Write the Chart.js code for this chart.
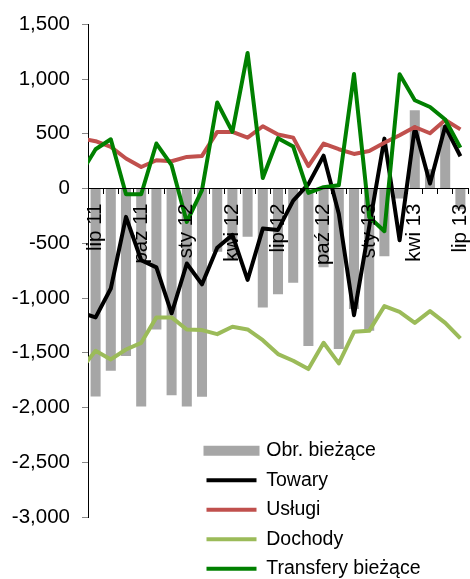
<!DOCTYPE html>
<html>
<head>
<meta charset="utf-8">
<script src="https://cdn.jsdelivr.net/npm/chart.js@4"></script>
<style>
html,body{margin:0;padding:0;background:#fff;}
#wrap{width:470px;height:579px;}
</style>
</head>
<body>
<div id="wrap"><canvas id="c" width="470" height="579"></canvas></div>
<script>
// Months (first one, cze 11, lies just left of the visible range; only its line segments show up to the axis)
const categories = ['cze 11','lip 11','sie 11','wrz 11','paź 11','lis 11','gru 11','sty 12','lut 12','mar 12','kwi 12','maj 12','cze 12','lip 12','sie 12','wrz 12','paź 12','lis 12','gru 12','sty 13','lut 13','mar 13','kwi 13','maj 13','cze 13','lip 13'];
const shownLabels = ['lip 11','paź 11','sty 12','kwi 12','lip 12','paź 12','sty 13','kwi 13','lip 13'];
const yTickValues = [-3000,-2500,-2000,-1500,-1000,-500,0,500,1000,1500];

const obrBiezace = [null,-1900,-1665,-1530,-1990,-1287,-1887,-1990,-1902,-578,-650,-441,-1086,-965,-861,-1439,-718,-1465,-1100,-1300,-618,-91,714,176,580,-190];
const towary     = [-1130,-1177,-913,-259,-655,-720,-1141,-685,-875,-540,-423,-835,-366,-378,-110,40,300,-230,-1157,-350,456,-472,557,46,569,295];
const uslugi     = [460,432,380,274,197,258,249,289,298,517,517,465,569,493,465,205,411,359,316,343,418,486,562,505,626,540];
const dochody    = [-1655,-1482,-1561,-1470,-1409,-1177,-1177,-1287,-1293,-1330,-1263,-1287,-1385,-1512,-1573,-1649,-1409,-1597,-1309,-1300,-1074,-1126,-1227,-1120,-1227,-1369];
const transfery  = [130,359,450,-52,-52,411,213,-305,-15,786,518,1238,97,460,383,-40,12,30,1046,-260,-390,1043,806,745,630,374];

const FONT = "'Liberation Sans', Arial, sans-serif";
Chart.defaults.font.family = FONT;
Chart.defaults.color = '#000';

function lineDs(label, data, color, order) {
  return {type:'line', label, data, borderColor:color, backgroundColor:color,
    borderWidth:4, pointRadius:0, pointHoverRadius:0, fill:false, tension:0,
    borderJoinStyle:'round', borderCapStyle:'butt', order, clip:0};
}

const legendPlace = {
  id:'legendPlace',
  afterUpdate(chart){
    const L = chart.legend; if(!L) return;
    L.left = 196.5; L.top = 431; L.right = 470; L.bottom = 660;
    L.width = L.right - L.left; L.height = L.bottom - L.top;
  }
};

new Chart(document.getElementById('c'), {
  type:'bar',
  data:{
    labels: categories,
    datasets:[
      {type:'bar', label:'Obr. bieżące', data:obrBiezace, backgroundColor:'#A6A6A6', borderWidth:0,
       barPercentage:0.66, categoryPercentage:1, order:5, clip:0},
      lineDs('Towary', towary, '#000000', 4),
      lineDs('Usługi', uslugi, '#C0504D', 3),
      lineDs('Dochody', dochody, '#9BBB59', 2),
      lineDs('Transfery bieżące', transfery, '#008000', 1)
    ]
  },
  options:{
    responsive:false, animation:false, devicePixelRatio:1, locale:'en-US',
    layout:{padding:{left:0, top:24, right:2, bottom:62}},
    scales:{
      x:{
        type:'category', min: categories[1], position:{y:0}, offset:true,
        grid:{display:true, drawOnChartArea:false, drawTicks:true, tickLength:5, tickColor:'#000', offset:true},
        border:{display:true, color:'#000', width:1, z:1},
        ticks:{autoSkip:false, minRotation:90, maxRotation:90, padding:10, color:'#000', z:1,
          font:{family:FONT, size:20.5},
          callback(value){ const l = categories[value]; return shownLabels.includes(l) ? l : ''; }},
        afterFit(s){ s.paddingLeft = 0; s.paddingRight = 0; }
      },
      y:{
        min: yTickValues[0], max: yTickValues[yTickValues.length-1],
        ticks:{stepSize: yTickValues[1]-yTickValues[0], padding:12, color:'#000', font:{family:FONT, size:20.5}},
        grid:{display:true, drawOnChartArea:false, drawTicks:true, tickLength:6, tickColor:'#888'},
        border:{display:true, color:'#000', width:1},
        afterFit(s){ s.width = 88; }
      }
    },
    plugins:{
      tooltip:{enabled:false},
      legend:{
        display:true, position:'chartArea', fullSize:false, align:'start',
        labels:{
          boxWidth:50, boxHeight:4, padding:10, color:'#000', font:{family:FONT, size:19.5},
          generateLabels(chart){
            return chart.data.datasets.map((ds,i)=>({
              text: ds.label,
              fillStyle: ds.type==='bar' ? ds.backgroundColor : ds.borderColor,
              strokeStyle: ds.type==='bar' ? ds.backgroundColor : ds.borderColor,
              lineWidth: ds.type==='bar' ? 6 : 0,
              hidden:false, datasetIndex:i, fontColor:'#000'
            }));
          }
        }
      }
    }
  },
  plugins:[legendPlace]
});
</script>
</body>
</html>
